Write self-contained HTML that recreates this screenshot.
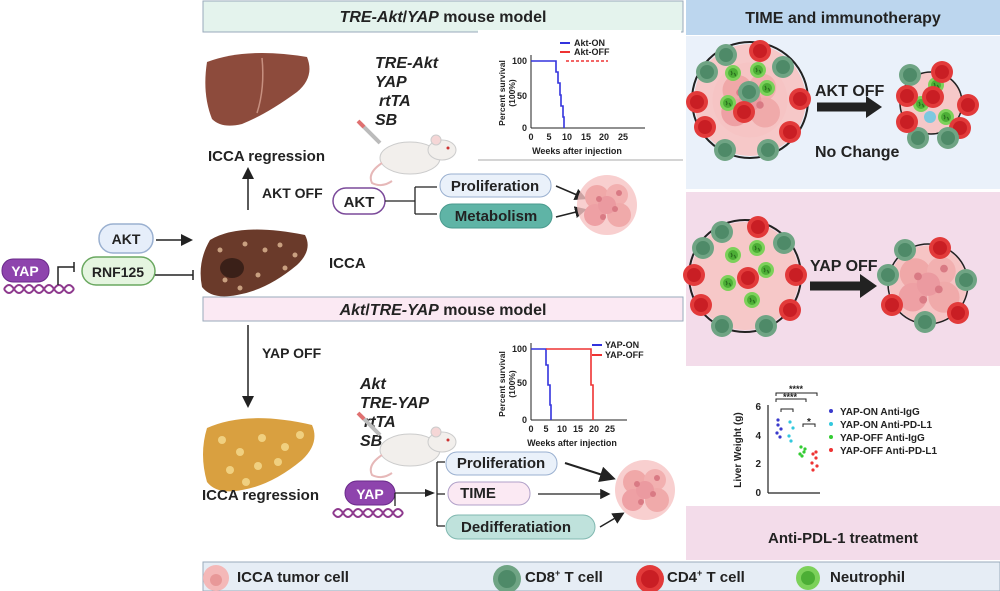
<!DOCTYPE html>
<html><head><meta charset="utf-8"><style>
html,body{margin:0;padding:0;background:#fff;}
svg{display:block;font-family:"Liberation Sans",sans-serif;}
text{font-weight:bold;fill:#222;}
</style></head><body>
<svg width="1000" height="591" viewBox="0 0 1000 591" xmlns="http://www.w3.org/2000/svg">
<defs>
<g id="tum">
 <circle r="30" fill="#f6c3c3" opacity="0.8"/>
 <circle cx="-10" cy="-8" r="12" fill="#f0a8a8"/><circle cx="10" cy="-10" r="11" fill="#f2b0b0"/>
 <circle cx="-12" cy="10" r="11" fill="#eea0a4"/><circle cx="12" cy="10" r="12" fill="#f0aaaa"/>
 <circle cx="0" cy="0" r="9" fill="#eb9aa0"/>
 <circle cx="-8" cy="-6" r="3" fill="#d97a84"/><circle cx="8" cy="4" r="3" fill="#d97a84"/><circle cx="-4" cy="12" r="3" fill="#d97a84"/><circle cx="12" cy="-12" r="3" fill="#d97a84"/>
</g>
<g id="cd8"><circle r="11" fill="#6fa484"/><circle r="7" fill="#4e8a68"/></g>
<g id="cd4"><circle r="11" fill="#e23a3a"/><circle r="7" fill="#c91e24"/></g>
<g id="neu"><circle r="8" fill="#7cd15a"/><circle r="5" fill="#4cae35"/><path d="M-2,-2 q2,3 0,4 M1,0 q2,2 1,3" stroke="#2a6e1e" fill="none" stroke-width="1.2"/></g>
<g id="dna"><path d="M0,0 q5,-8 10,0 t10,0 t10,0 t10,0 t10,0 t10,0 t10,0" stroke="#8e3a8e" fill="none" stroke-width="2"/><path d="M0,0 q5,8 10,0 t10,0 t10,0 t10,0 t10,0 t10,0 t10,0" stroke="#8e3a8e" fill="none" stroke-width="2"/></g>
<g id="mouse">
 <ellipse cx="50" cy="20" rx="30" ry="16" fill="#f2efec" stroke="#ccc"/>
 <ellipse cx="82" cy="12" rx="14" ry="10" fill="#f2efec" stroke="#ccc"/>
 <circle cx="76" cy="2" r="5" fill="#f5d6d6" stroke="#ccc"/>
 <circle cx="88" cy="10" r="1.5" fill="#c33"/>
 <path d="M22,25 q-15,10 -10,20 q10,5 20,-2" stroke="#e6b8b8" fill="none" stroke-width="2"/>
 <path d="M0,-15 l20,20" stroke="#bbb" stroke-width="4"/><path d="M-2,-17 l6,6" stroke="#e07070" stroke-width="4"/>
</g>
<marker id="ah" markerWidth="8" markerHeight="8" refX="6" refY="4" orient="auto"><path d="M0,0 L8,4 L0,8z" fill="#222"/></marker>
</defs>

<rect x="203" y="1" width="480" height="31" fill="#e4f3ed" stroke="#9ab" stroke-width="1"/>
<text x="443" y="22" text-anchor="middle" font-size="16"><tspan font-style="italic">TRE-Akt</tspan>/<tspan font-style="italic">YAP</tspan> mouse model</text>

<rect x="686" y="0" width="314" height="35" fill="#bcd6ee"/>
<text x="843" y="23" text-anchor="middle" font-size="16">TIME and immunotherapy</text>
<rect x="686" y="36" width="314" height="153" fill="#eaf1fa"/>
<rect x="686" y="192" width="314" height="174" fill="#f3dcea"/>
<rect x="686" y="368" width="314" height="136" fill="#fff"/>
<rect x="686" y="506" width="314" height="54" fill="#f3dcea"/>
<text x="843" y="543" text-anchor="middle" font-size="15">Anti-PDL-1 treatment</text>

<circle cx="750" cy="100" r="56" fill="#f6c8c8"/>
<use href="#tum" x="750" y="100" transform="translate(-187.5 -25) scale(1.25)"/>
<circle cx="750" cy="100" r="58" fill="none" stroke="#222" stroke-width="2"/>
<use href="#neu" x="733" y="73"/><use href="#neu" x="758" y="70"/><use href="#neu" x="767" y="88"/><use href="#neu" x="728" y="103"/>
<use href="#cd8" x="749" y="92"/><use href="#cd4" x="744" y="112"/>
<use href="#cd8" x="726" y="55"/><use href="#cd4" x="760" y="51"/><use href="#cd8" x="783" y="67"/><use href="#cd4" x="800" y="99"/>
<use href="#cd4" x="790" y="132"/><use href="#cd8" x="768" y="150"/><use href="#cd8" x="725" y="150"/><use href="#cd4" x="705" y="127"/>
<use href="#cd4" x="697" y="102"/><use href="#cd8" x="707" y="72"/>
<text x="815" y="96" font-size="16">AKT OFF</text>
<path d="M817,107 h52" stroke="#222" stroke-width="9"/><path d="M866,96 l16,11 l-16,11z" fill="#222"/>
<text x="815" y="157" font-size="16">No Change</text>
<g transform="translate(8 0)">
<circle cx="923" cy="103" r="31" fill="#f6c8c8"/>
<circle cx="923" cy="103" r="31" fill="none" stroke="#222" stroke-width="1.5"/>
<use href="#neu" x="928" y="85"/><use href="#neu" x="913" y="104"/><use href="#neu" x="938" y="117"/>
<circle cx="922" cy="117" r="6" fill="#7ec8e0"/><use href="#cd4" x="925" y="97"/>
<use href="#cd8" x="902" y="75"/><use href="#cd4" x="934" y="72"/><use href="#cd4" x="899" y="96"/>
<use href="#cd4" x="960" y="105"/><use href="#cd4" x="952" y="128"/><use href="#cd8" x="940" y="138"/><use href="#cd8" x="910" y="138"/><use href="#cd4" x="899" y="122"/>
</g>

<circle cx="745" cy="276" r="54" fill="#f6c8c8"/>
<circle cx="745" cy="276" r="56" fill="none" stroke="#222" stroke-width="2"/>
<use href="#neu" x="733" y="255"/><use href="#neu" x="757" y="248"/><use href="#neu" x="766" y="270"/><use href="#neu" x="728" y="283"/><use href="#neu" x="752" y="300"/>
<use href="#cd4" x="748" y="278"/>
<use href="#cd8" x="722" y="232"/><use href="#cd4" x="758" y="227"/><use href="#cd8" x="784" y="243"/><use href="#cd4" x="796" y="275"/>
<use href="#cd4" x="790" y="310"/><use href="#cd8" x="766" y="326"/><use href="#cd8" x="722" y="326"/><use href="#cd4" x="701" y="305"/>
<use href="#cd4" x="694" y="275"/><use href="#cd8" x="703" y="248"/>
<text x="810" y="271" font-size="16">YAP OFF</text>
<path d="M810,286 h53" stroke="#222" stroke-width="9"/><path d="M860,274 l17,12 l-17,12z" fill="#222"/>
<circle cx="928" cy="284" r="38" fill="#f6c8c8"/>
<use href="#tum" x="928" y="284" transform="translate(-278 -85) scale(1.3)"/>
<circle cx="928" cy="284" r="40" fill="none" stroke="#222" stroke-width="1.5"/>
<use href="#cd8" x="905" y="250"/><use href="#cd4" x="940" y="248"/><use href="#cd8" x="966" y="280"/><use href="#cd4" x="958" y="313"/><use href="#cd8" x="925" y="322"/><use href="#cd4" x="892" y="305"/><use href="#cd8" x="888" y="275"/>

<g font-size="10">
<text transform="translate(741 450) rotate(-90)" text-anchor="middle" font-size="10">Liver Weight (g)</text>
<line x1="768" y1="405" x2="768" y2="493" stroke="#222" stroke-width="1.2"/>
<line x1="768" y1="493" x2="820" y2="493" stroke="#222" stroke-width="1.2"/>
<text x="761" y="410" text-anchor="end">6</text><text x="761" y="439" text-anchor="end">4</text><text x="761" y="467" text-anchor="end">2</text><text x="761" y="496" text-anchor="end">0</text>
<path d="M776,396 v-3 h41 v3 M776,402 v-3 h30 v3 M781,412 v-3 h12 v3 M803,427 v-3 h12 v3" stroke="#222" fill="none"/>
<text x="796" y="392" text-anchor="middle" font-size="9">****</text>
<text x="790" y="400" text-anchor="middle" font-size="9">****</text>
<text x="809" y="425" text-anchor="middle" font-size="10">*</text>
<g fill="#3a3acc"><circle cx="778" cy="425" r="1.6"/><circle cx="781" cy="429" r="1.6"/><circle cx="777" cy="433" r="1.6"/><circle cx="780" cy="437" r="1.6"/><circle cx="778" cy="420" r="1.6"/></g>
<g fill="#33c8dd"><circle cx="790" cy="422" r="1.6"/><circle cx="793" cy="428" r="1.6"/><circle cx="789" cy="436" r="1.6"/><circle cx="791" cy="441" r="1.6"/></g>
<g fill="#33cc33"><circle cx="801" cy="447" r="1.6"/><circle cx="804" cy="452" r="1.6"/><circle cx="800" cy="454" r="1.6"/><circle cx="805" cy="449" r="1.6"/><circle cx="802" cy="456" r="1.6"/></g>
<g fill="#e33"><circle cx="813" cy="454" r="1.6"/><circle cx="816" cy="458" r="1.6"/><circle cx="812" cy="463" r="1.6"/><circle cx="817" cy="466" r="1.6"/><circle cx="813" cy="470" r="1.6"/><circle cx="816" cy="452" r="1.6"/></g>
<circle cx="831" cy="411" r="2" fill="#3a3acc"/><text x="840" y="415">YAP-ON Anti-IgG</text>
<circle cx="831" cy="424" r="2" fill="#33c8dd"/><text x="840" y="428">YAP-ON Anti-PD-L1</text>
<circle cx="831" cy="437" r="2" fill="#33cc33"/><text x="840" y="441">YAP-OFF Anti-IgG</text>
<circle cx="831" cy="450" r="2" fill="#e33"/><text x="840" y="454">YAP-OFF Anti-PD-L1</text>
</g>

<path d="M207,62 q40,-15 100,-5 q8,20 -10,35 q-30,22 -55,32 q-20,5 -30,-5 q-10,-25 -5,-57z" fill="#8d4b3c"/>
<path d="M262,58 q3,30 -5,55" stroke="#c79080" fill="none" stroke-width="1.5"/>
<text x="208" y="161" font-size="15">ICCA regression</text>
<g font-style="italic" font-size="16"><text x="375" y="68">TRE-Akt</text><text x="375" y="87">YAP</text><text x="379" y="106">rtTA</text><text x="375" y="125">SB</text></g>
<use href="#mouse" x="360" y="138"/>
<rect x="478" y="30" width="203" height="130" fill="#fff"/>
<g font-size="9">
<line x1="531" y1="55" x2="531" y2="128" stroke="#222"/><line x1="531" y1="128" x2="645" y2="128" stroke="#222"/>
<text x="527" y="64" text-anchor="end">100</text><text x="527" y="99" text-anchor="end">50</text><text x="527" y="131" text-anchor="end">0</text>
<text x="531" y="140" text-anchor="middle">0</text><text x="549" y="140" text-anchor="middle">5</text><text x="567" y="140" text-anchor="middle">10</text><text x="586" y="140" text-anchor="middle">15</text><text x="604" y="140" text-anchor="middle">20</text><text x="623" y="140" text-anchor="middle">25</text>
<text x="577" y="154" text-anchor="middle">Weeks after injection</text>
<text transform="translate(505 93) rotate(-90)" text-anchor="middle" font-size="8.5">Percent survival</text>
<text transform="translate(515 93) rotate(-90)" text-anchor="middle" font-size="8.5">(100%)</text>
<path d="M531,61 H556 V72 H558 V83 H560 V95 H561 V106 H563 V117 H564 V128" stroke="#3333dd" fill="none" stroke-width="1.6"/>
<path d="M566,61 H608" stroke="#e33" stroke-width="1.6" stroke-dasharray="3 2"/>
<line x1="560" y1="43" x2="570" y2="43" stroke="#3333dd" stroke-width="2"/><text x="574" y="46">Akt-ON</text>
<line x1="560" y1="52" x2="570" y2="52" stroke="#e33" stroke-width="2"/><text x="574" y="55">Akt-OFF</text>
</g>
<line x1="478" y1="160" x2="683" y2="160" stroke="#aaa"/>

<line x1="248" y1="210" x2="248" y2="170" stroke="#222" stroke-width="1.5" marker-end="url(#ah)"/>
<text x="262" y="198" font-size="14">AKT OFF</text>
<rect x="333" y="188" width="52" height="26" rx="13" fill="#fff" stroke="#7b4a9a" stroke-width="1.5"/>
<text x="359" y="207" text-anchor="middle" font-size="15">AKT</text>
<path d="M385,201 h30 M415,187 v27 M415,187 h22 M415,214 h22" stroke="#222" fill="none" stroke-width="1.3"/>
<rect x="440" y="174" width="111" height="23" rx="11" fill="#eaf1fa" stroke="#9ab0d0"/>
<text x="495" y="191" text-anchor="middle" font-size="15">Proliferation</text>
<rect x="440" y="204" width="112" height="24" rx="12" fill="#5fb4a6" stroke="#4a9a8e"/>
<text x="496" y="221" text-anchor="middle" font-size="15">Metabolism</text>
<line x1="556" y1="186" x2="584" y2="198" stroke="#222" stroke-width="1.5" marker-end="url(#ah)"/>
<line x1="556" y1="217" x2="584" y2="210" stroke="#222" stroke-width="1.5" marker-end="url(#ah)"/>
<use href="#tum" x="607" y="205"/>

<rect x="99" y="224" width="54" height="29" rx="14" fill="#e6eefa" stroke="#9ab0d0" stroke-width="1.5"/>
<text x="126" y="244" text-anchor="middle" font-size="14">AKT</text>
<line x1="156" y1="240" x2="190" y2="240" stroke="#222" stroke-width="1.5" marker-end="url(#ah)"/>
<rect x="82" y="257" width="73" height="28" rx="14" fill="#e5f5e0" stroke="#6aa860" stroke-width="1.5"/>
<text x="118" y="277" text-anchor="middle" font-size="14">RNF125</text>
<path d="M155,275 h38 M193,270 v10" stroke="#222" stroke-width="1.5" fill="none"/>
<rect x="2" y="259" width="47" height="23" rx="11" fill="#8e44ad" stroke="#6a2a8a"/>
<text x="25" y="276" text-anchor="middle" font-size="14" style="fill:#fff">YAP</text>
<use href="#dna" x="4" y="289"/>
<path d="M58,285 v-18 h16 M74,262 v10" stroke="#222" stroke-width="1.5" fill="none"/>
<path d="M210,240 q30,-18 95,-5 q8,15 -8,30 q-30,25 -60,30 q-25,5 -35,-8 q-5,-25 8,-47z" fill="#6a3a2a"/>
<g fill="#c9a080"><circle cx="220" cy="250" r="2.5"/><circle cx="232" cy="262" r="2.5"/><circle cx="245" cy="244" r="2.5"/><circle cx="265" cy="250" r="2.5"/><circle cx="280" cy="245" r="2.5"/><circle cx="295" cy="255" r="2.5"/><circle cx="225" cy="280" r="2.5"/><circle cx="258" cy="275" r="2.5"/><circle cx="240" cy="288" r="2.5"/><circle cx="285" cy="268" r="2.5"/></g>
<ellipse cx="232" cy="268" rx="12" ry="10" fill="#3a2018"/>
<text x="329" y="268" font-size="15">ICCA</text>

<rect x="203" y="297" width="480" height="24" fill="#fbe9f3" stroke="#9ab"/>
<text x="443" y="315" text-anchor="middle" font-size="16"><tspan font-style="italic">Akt</tspan>/<tspan font-style="italic">TRE-YAP</tspan> mouse model</text>

<line x1="248" y1="325" x2="248" y2="405" stroke="#222" stroke-width="1.5" marker-end="url(#ah)"/>
<text x="262" y="358" font-size="14">YAP OFF</text>
<g font-style="italic" font-size="16"><text x="360" y="389">Akt</text><text x="360" y="408">TRE-YAP</text><text x="364" y="427">rtTA</text><text x="360" y="446">SB</text></g>
<use href="#mouse" x="360" y="430"/>
<g font-size="9">
<line x1="531" y1="343" x2="531" y2="420" stroke="#222"/><line x1="531" y1="420" x2="627" y2="420" stroke="#222"/>
<text x="527" y="352" text-anchor="end">100</text><text x="527" y="386" text-anchor="end">50</text><text x="527" y="423" text-anchor="end">0</text>
<text x="531" y="432" text-anchor="middle">0</text><text x="546" y="432" text-anchor="middle">5</text><text x="562" y="432" text-anchor="middle">10</text><text x="578" y="432" text-anchor="middle">15</text><text x="594" y="432" text-anchor="middle">20</text><text x="610" y="432" text-anchor="middle">25</text>
<text x="572" y="446" text-anchor="middle">Weeks after injection</text>
<text transform="translate(505 384) rotate(-90)" text-anchor="middle" font-size="8.5">Percent survival</text>
<text transform="translate(515 384) rotate(-90)" text-anchor="middle" font-size="8.5">(100%)</text>
<path d="M531,349 H546 V365 H548 V385 H550 V405 H551 V420" stroke="#3333dd" fill="none" stroke-width="1.6"/>
<path d="M546,349 H591 V385 H593 V420" stroke="#e33" fill="none" stroke-width="1.6"/>
<line x1="592" y1="345" x2="602" y2="345" stroke="#3333dd" stroke-width="2"/><text x="605" y="348">YAP-ON</text>
<line x1="592" y1="355" x2="602" y2="355" stroke="#e33" stroke-width="2"/><text x="605" y="358">YAP-OFF</text>
</g>
<path d="M207,428 q40,-18 105,-3 q8,18 -10,35 q-30,25 -60,30 q-25,5 -35,-8 q-8,-28 0,-54z" fill="#d9a040"/>
<g fill="#f0d080"><circle cx="222" cy="440" r="4"/><circle cx="240" cy="452" r="4"/><circle cx="262" cy="438" r="4"/><circle cx="285" cy="447" r="4"/><circle cx="300" cy="435" r="4"/><circle cx="230" cy="470" r="4"/><circle cx="258" cy="466" r="4"/><circle cx="278" cy="462" r="4"/><circle cx="246" cy="482" r="4"/></g>
<text x="202" y="500" font-size="15">ICCA regression</text>
<rect x="345" y="481" width="50" height="24" rx="12" fill="#8e44ad" stroke="#6a2a8a"/>
<text x="370" y="499" text-anchor="middle" font-size="14" style="fill:#fff">YAP</text>
<use href="#dna" x="333" y="513"/>
<path d="M395,493 h38 M395,493 v13 M437,462 v64 M437,462 h8 M437,494 h8 M437,526 h8" stroke="#222" stroke-width="1.3" fill="none"/>
<path d="M425,489 l10,4 l-10,4z" fill="#222"/>
<rect x="446" y="452" width="111" height="23" rx="11" fill="#eaf1fa" stroke="#9ab0d0"/>
<text x="501" y="468" text-anchor="middle" font-size="15">Proliferation</text>
<rect x="448" y="482" width="82" height="23" rx="11" fill="#fbe9f3" stroke="#b0a0c8"/>
<text x="478" y="498" text-anchor="middle" font-size="15">TIME</text>
<rect x="446" y="515" width="149" height="24" rx="12" fill="#bfe2dc" stroke="#80b8b0"/>
<text x="516" y="532" text-anchor="middle" font-size="15">Dedifferatiation</text>
<line x1="565" y1="463" x2="612" y2="478" stroke="#222" stroke-width="2" marker-end="url(#ah)"/>
<line x1="538" y1="494" x2="608" y2="494" stroke="#222" stroke-width="1.3" marker-end="url(#ah)"/>
<line x1="600" y1="527" x2="622" y2="514" stroke="#222" stroke-width="1.5" marker-end="url(#ah)"/>
<use href="#tum" x="645" y="490"/>

<rect x="203" y="562" width="797" height="29" fill="#e6edf5" stroke="#9ab" />
<circle cx="216" cy="578" r="13" fill="#f4b8b8"/><circle cx="216" cy="580" r="6" fill="#e89898"/>
<text x="237" y="582" font-size="15">ICCA tumor cell</text>
<circle cx="507" cy="579" r="14" fill="#6fa484"/><circle cx="507" cy="579" r="9" fill="#4e8a68"/>
<text x="525" y="582" font-size="15">CD8<tspan font-size="9" dy="-6">+</tspan><tspan dy="6"> T cell</tspan></text>
<circle cx="650" cy="579" r="14" fill="#e23a3a"/><circle cx="650" cy="579" r="9" fill="#c91e24"/>
<text x="667" y="582" font-size="15">CD4<tspan font-size="9" dy="-6">+</tspan><tspan dy="6"> T cell</tspan></text>
<circle cx="808" cy="578" r="12" fill="#7cd15a"/><circle cx="808" cy="578" r="7" fill="#4cae35"/>
<text x="830" y="582" font-size="15">Neutrophil</text>
</svg>
</body></html>
